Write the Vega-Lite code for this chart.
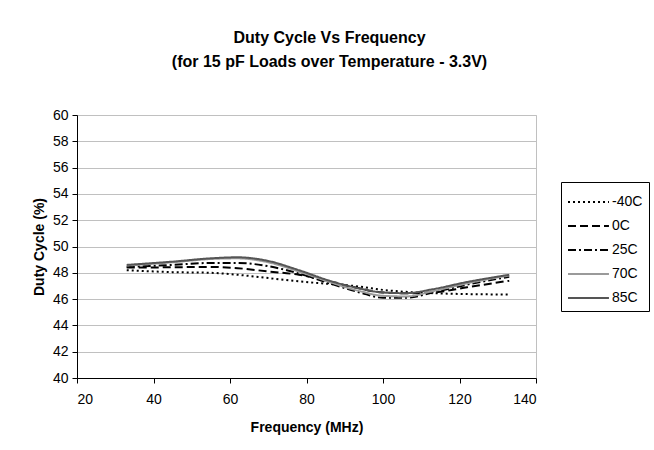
{
  "$schema": "https://vega.github.io/schema/vega-lite/v6.json",
  "autosize": "none",
  "width": 459,
  "height": 263,
  "padding": {"left": 77, "top": 115, "right": 118, "bottom": 72},
  "background": "white",
  "title": {
    "text": ["Duty Cycle Vs Frequency", "(for 15 pF Loads over Temperature - 3.3V)"],
    "font": "Liberation Sans",
    "fontSize": 16,
    "fontWeight": "bold",
    "lineHeight": 24,
    "anchor": "middle",
    "dx": 23,
    "offset": 38,
    "color": "black"
  },
  "data": {
    "values": [
      {"f": 33, "t": "-40C", "d": 48.2}, {"f": 45, "t": "-40C", "d": 48.05}, {"f": 55, "t": "-40C", "d": 48.0}, {"f": 62, "t": "-40C", "d": 47.85}, {"f": 70, "t": "-40C", "d": 47.6}, {"f": 78, "t": "-40C", "d": 47.35}, {"f": 86, "t": "-40C", "d": 47.15}, {"f": 94, "t": "-40C", "d": 46.95}, {"f": 100, "t": "-40C", "d": 46.7}, {"f": 106, "t": "-40C", "d": 46.55}, {"f": 113, "t": "-40C", "d": 46.45}, {"f": 122, "t": "-40C", "d": 46.38}, {"f": 133, "t": "-40C", "d": 46.35},
      {"f": 33, "t": "0C", "d": 48.4}, {"f": 45, "t": "0C", "d": 48.42}, {"f": 55, "t": "0C", "d": 48.45}, {"f": 62, "t": "0C", "d": 48.35}, {"f": 70, "t": "0C", "d": 48.1}, {"f": 78, "t": "0C", "d": 47.85}, {"f": 86, "t": "0C", "d": 47.35}, {"f": 94, "t": "0C", "d": 46.8}, {"f": 100, "t": "0C", "d": 46.5}, {"f": 106, "t": "0C", "d": 46.45}, {"f": 113, "t": "0C", "d": 46.5}, {"f": 122, "t": "0C", "d": 46.9}, {"f": 133, "t": "0C", "d": 47.4},
      {"f": 33, "t": "25C", "d": 48.45}, {"f": 45, "t": "25C", "d": 48.6}, {"f": 55, "t": "25C", "d": 48.75}, {"f": 62, "t": "25C", "d": 48.75}, {"f": 70, "t": "25C", "d": 48.5}, {"f": 78, "t": "25C", "d": 47.95}, {"f": 86, "t": "25C", "d": 47.2}, {"f": 94, "t": "25C", "d": 46.5}, {"f": 100, "t": "25C", "d": 46.1}, {"f": 106, "t": "25C", "d": 46.1}, {"f": 113, "t": "25C", "d": 46.5}, {"f": 122, "t": "25C", "d": 47.1}, {"f": 133, "t": "25C", "d": 47.7},
      {"f": 33, "t": "70C", "d": 48.55}, {"f": 45, "t": "70C", "d": 48.8}, {"f": 55, "t": "70C", "d": 49.05}, {"f": 62, "t": "70C", "d": 49.1}, {"f": 70, "t": "70C", "d": 48.8}, {"f": 78, "t": "70C", "d": 48.1}, {"f": 86, "t": "70C", "d": 47.3}, {"f": 94, "t": "70C", "d": 46.6}, {"f": 100, "t": "70C", "d": 46.25}, {"f": 106, "t": "70C", "d": 46.2}, {"f": 113, "t": "70C", "d": 46.6}, {"f": 122, "t": "70C", "d": 47.2}, {"f": 133, "t": "70C", "d": 47.8},
      {"f": 33, "t": "85C", "d": 48.6}, {"f": 45, "t": "85C", "d": 48.85}, {"f": 55, "t": "85C", "d": 49.1}, {"f": 62, "t": "85C", "d": 49.18}, {"f": 70, "t": "85C", "d": 48.9}, {"f": 78, "t": "85C", "d": 48.2}, {"f": 86, "t": "85C", "d": 47.4}, {"f": 94, "t": "85C", "d": 46.8}, {"f": 100, "t": "85C", "d": 46.5}, {"f": 106, "t": "85C", "d": 46.45}, {"f": 113, "t": "85C", "d": 46.75}, {"f": 122, "t": "85C", "d": 47.3}, {"f": 133, "t": "85C", "d": 47.85}
    ]
  },
  "mark": {"type": "line", "interpolate": "monotone"},
  "encoding": {
    "x": {
      "field": "f", "type": "quantitative",
      "scale": {"domain": [20, 140], "nice": false, "zero": false},
      "axis": {"values": [20, 40, 60, 80, 100, 120, 140], "title": "Frequency (MHz)", "grid": false, "labelPadding": 9, "titlePadding": 14}
    },
    "y": {
      "field": "d", "type": "quantitative",
      "scale": {"domain": [40, 60], "nice": false, "zero": false},
      "axis": {"values": [40, 42, 44, 46, 48, 50, 52, 54, 56, 58, 60], "title": "Duty Cycle  (%)", "grid": true, "labelPadding": 4, "titlePadding": 6}
    },
    "color": {
      "field": "t", "type": "ordinal",
      "scale": {"domain": ["-40C", "0C", "25C", "70C", "85C"], "range": ["#000000", "#000000", "#000000", "#9a9a9a", "#555555"]},
      "legend": {"title": null}
    },
    "strokeDash": {
      "field": "t", "type": "ordinal",
      "scale": {"domain": ["-40C", "0C", "25C", "70C", "85C"], "range": [[2, 3], [8, 4], [8, 3, 2, 3], [1, 0], [1, 0]]},
      "legend": {"title": null}
    },
    "strokeWidth": {
      "field": "t", "type": "ordinal",
      "scale": {"domain": ["-40C", "0C", "25C", "70C", "85C"], "range": [2, 2, 2, 1.2, 1.5]},
      "legend": {"title": null}
    }
  },
  "config": {
    "font": "Liberation Sans",
    "view": {"stroke": "#c0c0c0", "strokeWidth": 1},
    "axis": {
      "domainColor": "black",
      "tickColor": "black",
      "tickSize": 5,
      "labelColor": "black",
      "labelFont": "Liberation Sans",
      "labelFontSize": 14,
      "titleFont": "Liberation Sans",
      "titleFontSize": 14,
      "titleFontWeight": "bold",
      "titleColor": "black",
      "gridColor": "#c0c0c0",
      "gridWidth": 1
    },
    "legend": {
      "orient": "none",
      "legendX": 484,
      "legendY": 67,
      "strokeColor": "black",
      "padding": 6,
      "symbolType": "M-1,0H2.15",
      "symbolSize": 676,
      "symbolStrokeWidth": 2,
      "labelFont": "Liberation Sans",
      "labelFontSize": 14,
      "labelColor": "black",
      "labelOffset": 17,
      "rowPadding": 3
    }
  }
}
